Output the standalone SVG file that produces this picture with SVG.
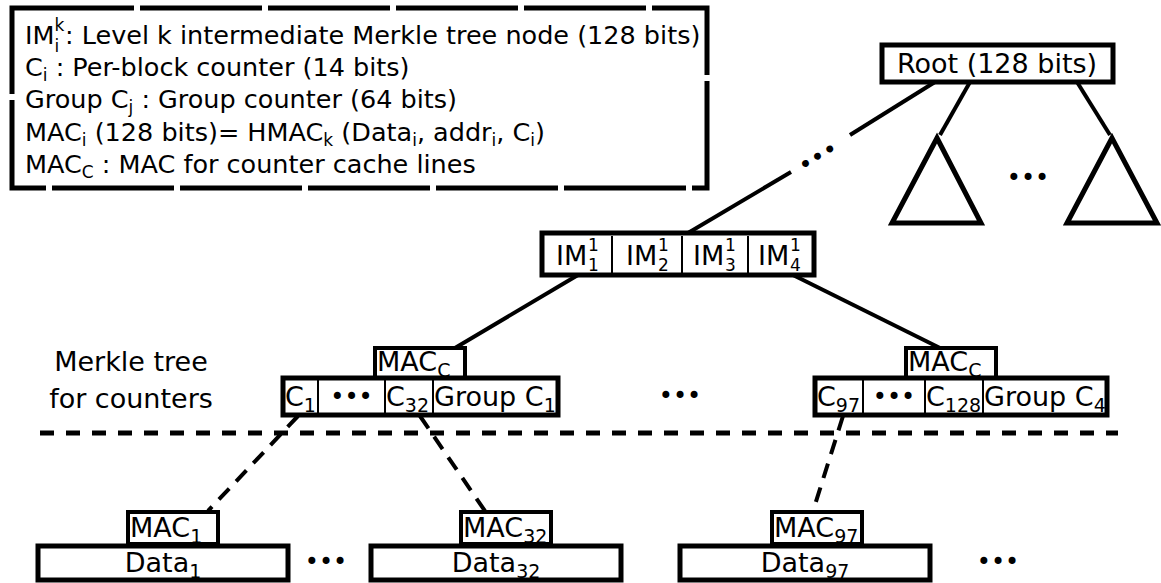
<svg xmlns="http://www.w3.org/2000/svg" width="1161" height="583" viewBox="0 0 1161 583">
<style>
text{font-family:"DejaVu Sans","Liberation Sans",sans-serif;font-size:27px;fill:#000}
.lg{font-size:25.5px}
.s{font-size:19px}
.ss{font-size:17px}
.ls{font-size:17px}
.dots{font-size:24px}
.box{fill:#fff;stroke:#000;stroke-width:5}
.mbox{fill:#fff;stroke:#000;stroke-width:4}
.div{stroke:#000;stroke-width:2}
.ln{stroke:#000;stroke-width:4;fill:none}
.dash{stroke-dasharray:15 10}
.hdash{stroke:#000;stroke-width:5;stroke-dasharray:14 12;fill:none}
</style>
<rect width="1161" height="583" fill="#fff"/>

<g id="legend">
<rect x="12" y="8" width="695" height="180" fill="none" stroke="#000" stroke-width="5" stroke-dasharray="122 6"/>
<text class="lg" x="25" y="44">IM</text>
<text class="ls" x="54.5" y="31">k</text>
<text class="ls" x="54.5" y="52">i</text>
<text class="lg" x="65" y="44">: Level k intermediate Merkle tree node (128 bits)</text>
<text class="lg" x="25" y="76">C<tspan class="ls" dy="5">i</tspan><tspan dy="-5"> : Per-block counter (14 bits)</tspan></text>
<text class="lg" x="25" y="108">Group C<tspan class="ls" dy="5">j</tspan><tspan dy="-5"> : Group counter (64 bits)</tspan></text>
<text class="lg" x="25" y="141">MAC<tspan class="ls" dy="5">i</tspan><tspan dy="-5"> (128 bits)= HMAC</tspan><tspan class="ls" dy="5">k</tspan><tspan dy="-5"> (Data</tspan><tspan class="ls" dy="5">i</tspan><tspan dy="-5">, addr</tspan><tspan class="ls" dy="5">i</tspan><tspan dy="-5">, C</tspan><tspan class="ls" dy="5">i</tspan><tspan dy="-5">)</tspan></text>
<text class="lg" x="25" y="173">MAC<tspan class="ls" dy="5">C</tspan><tspan dy="-5"> : MAC for counter cache lines</tspan></text>
</g>

<g id="connectors">
<line class="ln" x1="970" y1="82" x2="940" y2="135"/>
<line class="ln" x1="1077" y1="82" x2="1110" y2="135"/>
<line class="ln" x1="935" y1="82" x2="850" y2="135"/>
<line class="ln" x1="791" y1="172" x2="688" y2="233"/>
<text class="dots" x="818" y="165" text-anchor="middle" transform="rotate(-31 818 157)">•••</text>
<line class="ln" x1="578" y1="275" x2="455" y2="348"/>
<line class="ln" x1="793" y1="275" x2="940" y2="348"/>
<line class="hdash" x1="40" y1="433" x2="1118" y2="433"/>
<line class="ln dash" x1="298" y1="416" x2="208" y2="511"/>
<line class="ln dash" x1="420" y1="416" x2="485" y2="511"/>
<line class="ln dash" x1="843" y1="416" x2="813" y2="511"/>
</g>

<g id="root">
<rect class="box" x="882" y="45" width="231" height="37"/>
<text x="997" y="73" text-anchor="middle">Root (128 bits)</text>
</g>

<g id="subtree-left">
<polygon points="937,138 892,223 981,223" fill="none" stroke="#000" stroke-width="5"/>
</g>
<g id="subtree-dots">
<text class="dots" x="1028" y="186" text-anchor="middle">•••</text>
</g>
<g id="subtree-right">
<polygon points="1112,138 1067,223 1157,223" fill="none" stroke="#000" stroke-width="5"/>
</g>

<g id="im-node">
<rect class="box" x="542" y="233" width="272" height="42"/>
<line class="div" x1="612" y1="236" x2="612" y2="273"/>
<line class="div" x1="682" y1="236" x2="682" y2="273"/>
<line class="div" x1="748" y1="236" x2="748" y2="273"/>
<text x="556" y="265">IM</text><text class="ss" x="588" y="251">1</text><text class="ss" x="588" y="271">1</text>
<text x="626" y="265">IM</text><text class="ss" x="658" y="251">1</text><text class="ss" x="658" y="271">2</text>
<text x="693" y="265">IM</text><text class="ss" x="725" y="251">1</text><text class="ss" x="725" y="271">3</text>
<text x="758" y="265">IM</text><text class="ss" x="790" y="251">1</text><text class="ss" x="790" y="271">4</text>
</g>

<g id="label-counters">
<text x="131" y="371" text-anchor="middle" font-size="30">Merkle tree</text>
<text x="131" y="408" text-anchor="middle" font-size="30">for counters</text>
</g>

<g id="counter-group-1">
<rect class="mbox" x="375" y="348" width="90" height="30"/>
<text x="377" y="371">MAC<tspan class="s" dy="6">C</tspan></text>
<rect class="box" x="283" y="378" width="275" height="37"/>
<line class="div" x1="318" y1="380" x2="318" y2="413"/>
<line class="div" x1="385" y1="380" x2="385" y2="413"/>
<line class="div" x1="433" y1="380" x2="433" y2="413"/>
<text x="285" y="406">C<tspan class="s" dy="6">1</tspan></text>
<text class="dots" x="351.5" y="405" text-anchor="middle">•••</text>
<text x="386" y="406">C<tspan class="s" dy="6">32</tspan></text>
<text x="434" y="406">Group C<tspan class="s" dy="6">1</tspan></text>
</g>

<g id="mid-dots">
<text class="dots" x="680" y="404" text-anchor="middle">•••</text>
</g>

<g id="counter-group-4">
<rect class="mbox" x="906" y="348" width="90" height="30"/>
<text x="908" y="371">MAC<tspan class="s" dy="6">C</tspan></text>
<rect class="box" x="815" y="378" width="292" height="37"/>
<line class="div" x1="863" y1="380" x2="863" y2="413"/>
<line class="div" x1="925" y1="380" x2="925" y2="413"/>
<line class="div" x1="983" y1="380" x2="983" y2="413"/>
<text x="817" y="406">C<tspan class="s" dy="6">97</tspan></text>
<text class="dots" x="894" y="405" text-anchor="middle">•••</text>
<text x="926" y="406">C<tspan class="s" dy="6">128</tspan></text>
<text x="984" y="406">Group C<tspan class="s" dy="6">4</tspan></text>
</g>

<g id="data-1">
<rect class="mbox" x="128" y="512" width="90" height="32"/>
<text x="130" y="537">MAC<tspan class="s" dy="6">1</tspan></text>
<rect class="box" x="38" y="546" width="250" height="34"/>
<text x="163" y="572" text-anchor="middle">Data<tspan class="s" dy="6">1</tspan></text>
</g>

<g id="bottom-dots-1">
<text class="dots" x="326" y="570" text-anchor="middle">•••</text>
</g>

<g id="data-32">
<rect class="mbox" x="461" y="512" width="90" height="32"/>
<text x="463" y="537">MAC<tspan class="s" dy="6">32</tspan></text>
<rect class="box" x="371" y="546" width="250" height="34"/>
<text x="496" y="572" text-anchor="middle">Data<tspan class="s" dy="6">32</tspan></text>
</g>

<g id="data-97">
<rect class="mbox" x="772" y="512" width="90" height="32"/>
<text x="774" y="537">MAC<tspan class="s" dy="6">97</tspan></text>
<rect class="box" x="680" y="546" width="250" height="34"/>
<text x="805" y="572" text-anchor="middle">Data<tspan class="s" dy="6">97</tspan></text>
</g>

<g id="bottom-dots-2">
<text class="dots" x="998" y="570" text-anchor="middle">•••</text>
</g>
</svg>
